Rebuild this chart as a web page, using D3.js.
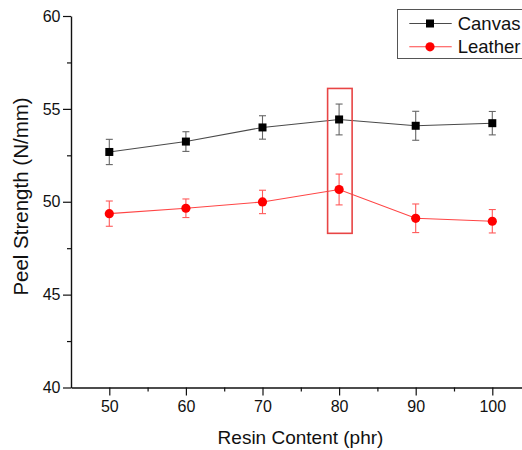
<!DOCTYPE html>
<html>
<head>
<meta charset="utf-8">
<script src="https://cdn.jsdelivr.net/npm/d3@7"></script>
<style>
  body { margin: 0; background: #fff; }
  svg { display: block; font-family: 'Liberation Sans', Arial, sans-serif; }
</style>
</head>
<body>
<div id="chart"></div>
<script>
// data
const resin = [50, 60, 70, 80, 90, 100];
const canvasMean = [52.68, 53.24, 54.0, 54.43, 54.09, 54.23];
const canvasErr = [0.68, 0.53, 0.63, 0.83, 0.78, 0.63];
const leatherMean = [49.36, 49.65, 49.99, 50.66, 49.11, 48.95];
const leatherErr = [0.68, 0.5, 0.63, 0.83, 0.77, 0.63];
const xTicks = [50, 60, 70, 80, 90, 100];
const xMinor = [55, 65, 75, 85, 95];
const yTicks = [40, 45, 50, 55, 60];
const yMinor = [42.5, 47.5, 52.5, 57.5];
const highlightX = [78.5, 81.7];
const highlightY = [48.3, 56.1];
const seriesNames = ['Canvas', 'Leather'];

const width = 522, height = 450;

const svg = d3.select('#chart')
  .append('svg')
  .attr('width', width)
  .attr('height', height);

svg.append('rect')
  .attr('width', width)
  .attr('height', height)
  .attr('fill', '#fff');

const x = d3.scaleLinear().domain([45, 105]).range([71, 530.6]);
const y = d3.scaleLinear().domain([40, 60]).range([387.5, 16]);

// axes
const xAxis = svg.append('g')
  .attr('transform', `translate(0,${y(40)})`)
  .call(d3.axisBottom(x).tickValues(xTicks).tickSize(8).tickPadding(5.5).tickSizeOuter(0));
svg.append('g')
  .attr('transform', `translate(0,${y(40)})`)
  .call(d3.axisBottom(x).tickValues(xMinor).tickSize(4).tickFormat('').tickSizeOuter(0))
  .select('.domain').remove();

const yAxis = svg.append('g')
  .attr('transform', `translate(${x(45)},0)`)
  .call(d3.axisLeft(y).tickValues(yTicks).tickSize(8).tickPadding(2.5).tickSizeOuter(0));
svg.append('g')
  .attr('transform', `translate(${x(45)},0)`)
  .call(d3.axisLeft(y).tickValues(yMinor).tickSize(4).tickFormat('').tickSizeOuter(0))
  .select('.domain').remove();

svg.selectAll('.domain').attr('stroke', '#111').attr('stroke-width', 1.4);
svg.selectAll('.tick line').attr('stroke', '#111').attr('stroke-width', 1.2);
svg.selectAll('.tick text')
  .attr('font-size', 16)
  .attr('font-family', "'Liberation Sans', Arial, sans-serif")
  .attr('fill', '#111');

// axis titles
svg.append('text')
  .attr('x', 300.5)
  .attr('y', 444)
  .attr('text-anchor', 'middle')
  .attr('font-size', 19)
  .attr('fill', '#111')
  .text('Resin Content (phr)');

svg.append('text')
  .attr('transform', `translate(28,${196.5}) rotate(-90)`)
  .attr('text-anchor', 'middle')
  .attr('font-size', 20.5)
  .attr('fill', '#111')
  .text('Peel Strength (N/mm)');

// series
const series = [
  { name: seriesNames[0], mean: canvasMean, err: canvasErr, line: '#4a4a4a', bar: '#666', fill: '#000', shape: 'square' },
  { name: seriesNames[1], mean: leatherMean, err: leatherErr, line: '#ff4545', bar: '#ff5a5a', fill: '#ff0000', shape: 'circle' }
];

const line = d3.line()
  .x(d => x(d.x))
  .y(d => y(d.y));

series.forEach(s => {
  const pts = resin.map((r, i) => ({ x: r, y: s.mean[i], e: s.err[i] }));
  const g = svg.append('g');

  g.append('path')
    .datum(pts)
    .attr('fill', 'none')
    .attr('stroke', s.line)
    .attr('stroke-width', 1.1)
    .attr('d', line);

  const eb = g.selectAll('.eb')
    .data(pts)
    .enter()
    .append('g')
    .attr('stroke', s.bar)
    .attr('stroke-width', 1.1);
  eb.append('line')
    .attr('x1', d => x(d.x)).attr('x2', d => x(d.x))
    .attr('y1', d => y(d.y + d.e)).attr('y2', d => y(d.y - d.e));
  eb.append('line')
    .attr('x1', d => x(d.x) - 3.5).attr('x2', d => x(d.x) + 3.5)
    .attr('y1', d => y(d.y + d.e)).attr('y2', d => y(d.y + d.e));
  eb.append('line')
    .attr('x1', d => x(d.x) - 3.5).attr('x2', d => x(d.x) + 3.5)
    .attr('y1', d => y(d.y - d.e)).attr('y2', d => y(d.y - d.e));

  if (s.shape === 'square') {
    g.selectAll('.m')
      .data(pts)
      .enter()
      .append('rect')
      .attr('x', d => x(d.x) - 4)
      .attr('y', d => y(d.y) - 4)
      .attr('width', 8)
      .attr('height', 8)
      .attr('fill', s.fill);
  } else {
    g.selectAll('.m')
      .data(pts)
      .enter()
      .append('circle')
      .attr('cx', d => x(d.x))
      .attr('cy', d => y(d.y))
      .attr('r', 4.6)
      .attr('fill', s.fill);
  }
});

// highlight box round the 80 phr points
svg.append('rect')
  .attr('x', x(highlightX[0]))
  .attr('y', y(highlightY[1]))
  .attr('width', x(highlightX[1]) - x(highlightX[0]))
  .attr('height', y(highlightY[0]) - y(highlightY[1]))
  .attr('fill', 'none')
  .attr('stroke', '#e84545')
  .attr('stroke-width', 1.6);

// legend
const legend = svg.append('g');
legend.append('rect')
  .attr('x', 397.5)
  .attr('y', 9.5)
  .attr('width', 150)
  .attr('height', 49)
  .attr('fill', '#fff')
  .attr('stroke', '#555')
  .attr('stroke-width', 1);

series.forEach((s, i) => {
  const ly = 23.5 + i * 23.3;
  legend.append('line')
    .attr('x1', 409.3).attr('x2', 451.7)
    .attr('y1', ly).attr('y2', ly)
    .attr('stroke', s.line)
    .attr('stroke-width', 1.1);
  if (s.shape === 'square') {
    legend.append('rect')
      .attr('x', 426).attr('y', ly - 4)
      .attr('width', 8).attr('height', 8)
      .attr('fill', s.fill);
  } else {
    legend.append('circle')
      .attr('cx', 430).attr('cy', ly)
      .attr('r', 4.6)
      .attr('fill', s.fill);
  }
  legend.append('text')
    .attr('x', 457.7)
    .attr('y', ly)
    .attr('dy', '0.36em')
    .attr('font-size', 18.5)
    .attr('fill', '#111')
    .text(s.name);
});
</script>
</body>
</html>
